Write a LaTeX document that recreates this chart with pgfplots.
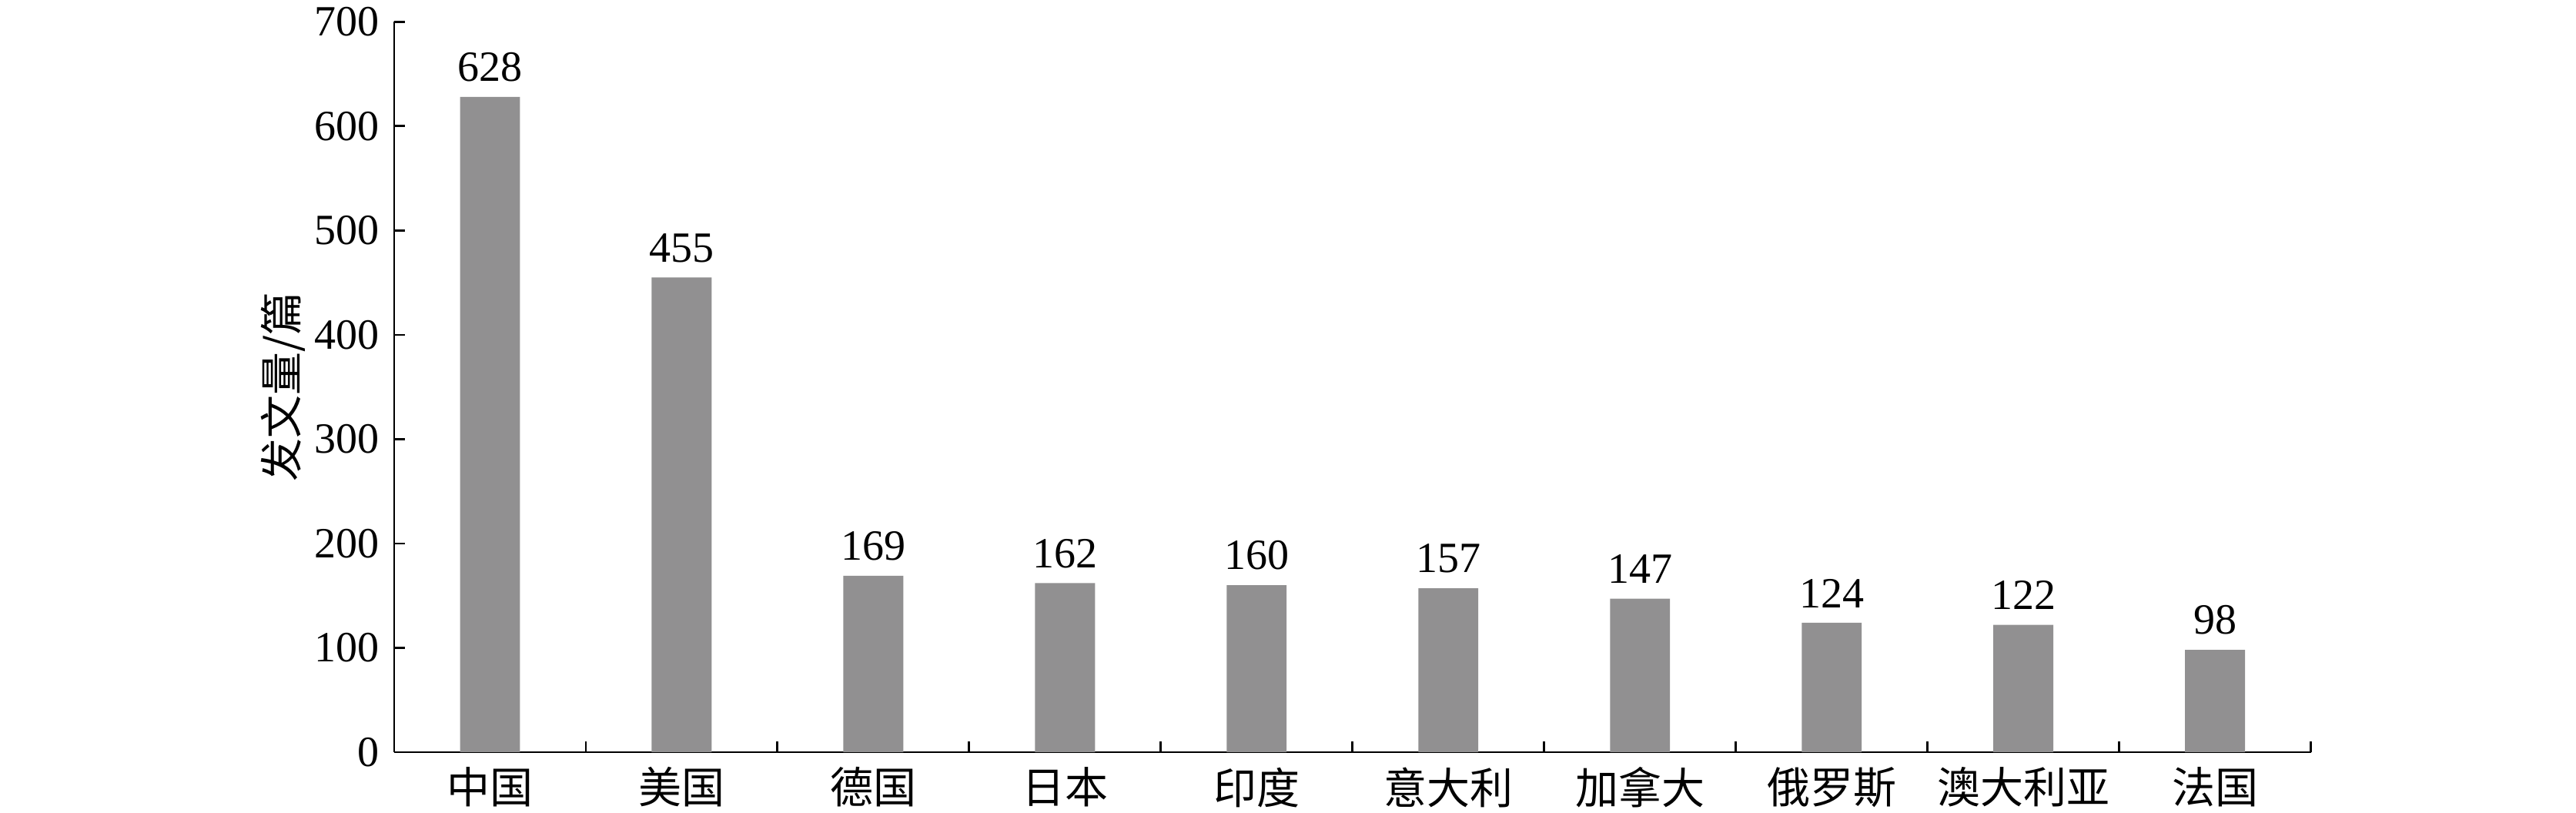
\documentclass[border=0pt]{standalone}
\usepackage{pgfplots}
\pgfplotsset{compat=1.18}
\usepackage{fontspec}
\setmainfont{Liberation Serif}
\newfontfamily\cjk{Noto Sans CJK SC}
\definecolor{bargray}{RGB}{145,144,145}
\begin{document}
\begin{tikzpicture}
\useasboundingbox (-91.43pt,-14.1pt) rectangle (506.1pt,174.46pt);
\begin{axis}[
  scale only axis, width=444.6pt, height=169.4pt,
  ybar, bar width=13.9pt,
  xmin=-0.5, xmax=9.5, ymin=0, ymax=700,
  enlarge x limits=false,
  axis x line*=bottom, axis y line*=left,
  axis line style={black, line width=0.5pt},
  every tick/.style={black, line width=0.5pt},
  tick align=inside,
  xtick={0,...,9},
  xticklabels={中国,美国,德国,日本,印度,意大利,加拿大,俄罗斯,澳大利亚,法国},
  xticklabel style={font=\cjk},
  major x tick style={draw=none},
  minor xtick={-0.5,0.5,...,9.5},
  minor tick length=2.5pt,
  ytick={0,100,...,700},
  major tick length=2.5pt,
  /pgf/number format/assume math mode=true,
  ylabel={\cjk 发文量/篇},
  ylabel style={at={(axis description cs:-0.0578,0.5)}, anchor=center},
  nodes near coords,
  nodes near coords style={black},
]
\addplot[fill=bargray, draw=none] coordinates {
  (0,628) (1,455) (2,169) (3,162) (4,160)
  (5,157) (6,147) (7,124) (8,122) (9,98)
};
\end{axis}
\end{tikzpicture}
\end{document}
